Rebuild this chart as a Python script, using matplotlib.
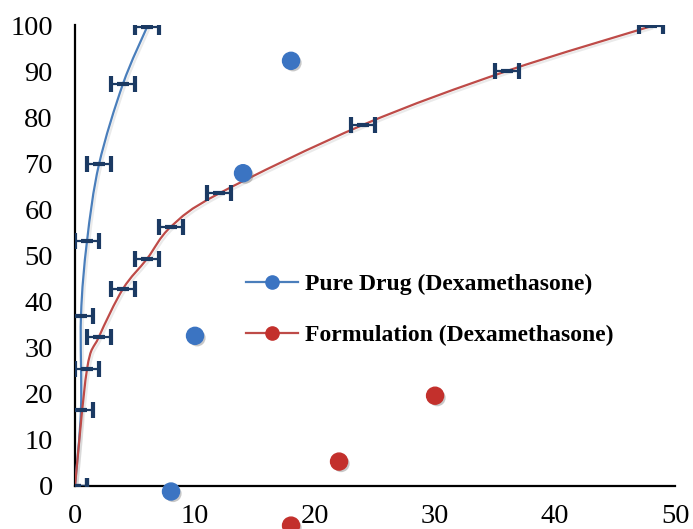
import matplotlib
matplotlib.use('Agg')
import matplotlib.pyplot as plt
import matplotlib.patheffects as pe
from matplotlib.path import Path
from matplotlib.patches import PathPatch
from matplotlib.lines import Line2D
import numpy as np

# release profiles: time vs cumulative % released, with horizontal error
pure_x = [0, 0.5, 0.5, 1, 2, 4, 6]
pure_y = [0, 16.6, 36.9, 53.1, 69.8, 87.3, 99.6]
pure_err = [1, 1, 1, 1, 1, 1, 1]

form_x = [0, 1, 2, 4, 6, 8, 12, 24, 36, 48]
form_y = [0, 25.3, 32.4, 42.8, 49.3, 56.3, 63.5, 78.4, 90.1, 99.8]
form_err = [1, 1, 1, 1, 1, 1, 1, 1, 1, 1]

# series markers as they sit on the sheet
pure_dot_x = [8, 10, 14, 18]
pure_dot_y = [-1.2, 32.6, 67.9, 92.3]
form_dot_x = [18, 22, 30]
form_dot_y = [-8.6, 5.3, 19.6]

x_ticks = [0, 10, 20, 30, 40, 50]
y_ticks = [0, 10, 20, 30, 40, 50, 60, 70, 80, 90, 100]

BLUE_LINE = '#4A7EBB'
BLUE_DOT = '#3B74C2'
RED_LINE = '#BE4B48'
RED_DOT = '#C3302C'
NAVY = '#1B3A63'

plt.rcParams['font.family'] = ['Liberation Serif', 'DejaVu Serif']


def smooth_path(xs, ys):
    # catmull-rom style smoothing, written as cubic bezier segments
    pts = np.column_stack([xs, ys]).astype(float)
    ext = np.vstack([pts[0], pts, pts[-1]])
    verts = [pts[0]]
    codes = [Path.MOVETO]
    for i in range(1, len(ext) - 2):
        p0, p1, p2, p3 = ext[i - 1], ext[i], ext[i + 1], ext[i + 2]
        verts += [p1 + (p2 - p0) / 6, p2 - (p3 - p1) / 6, p2]
        codes += [Path.CURVE4] * 3
    return Path(verts, codes)


shadow = [pe.SimpleLineShadow(offset=(1.5, -1.5), shadow_color='#999999', alpha=0.2),
          pe.Normal()]
dot_shadow = [pe.SimplePatchShadow(offset=(1.5, -1.5), shadow_rgbFace='#777777', alpha=0.4),
              pe.Normal()]

fig = plt.figure(figsize=(6.93, 5.29), dpi=100)
ax = fig.add_axes([0.1082, 0.0813, 0.866, 0.8708])

for xs, ys, col in [(pure_x, pure_y, BLUE_LINE), (form_x, form_y, RED_LINE)]:
    patch = PathPatch(smooth_path(xs, ys), facecolor='none', edgecolor=col,
                      lw=1.6, zorder=3, path_effects=shadow)
    ax.add_patch(patch)

for xs, ys, err in [(pure_x, pure_y, pure_err), (form_x, form_y, form_err)]:
    ax.errorbar(xs, ys, xerr=err, fmt='_', color=NAVY, ms=8, mew=3,
                elinewidth=1.6, capsize=6, capthick=1.6, zorder=4)

ax.scatter(pure_dot_x, pure_dot_y, s=150, color=BLUE_DOT, zorder=5,
           clip_on=False, path_effects=dot_shadow)
ax.scatter(form_dot_x, form_dot_y, s=150, color=RED_DOT, zorder=5,
           clip_on=False, path_effects=dot_shadow)

ax.set_xlim(0, 50)
ax.set_ylim(0, 100)
ax.set_xticks(x_ticks)
ax.set_yticks(y_ticks)
ax.tick_params(axis='both', length=0, labelsize=20.5, colors='black')
ax.tick_params(axis='y', pad=16)
ax.tick_params(axis='x', pad=13)
for side in ['top', 'right']:
    ax.spines[side].set_visible(False)
for side in ['left', 'bottom']:
    ax.spines[side].set_linewidth(1.6)
    ax.spines[side].set_color('black')
    ax.spines[side].set_zorder(2)

handles = [
    Line2D([], [], color=BLUE_LINE, lw=1.6, marker='o', ms=9.5,
           markerfacecolor=BLUE_DOT, markeredgecolor=BLUE_DOT),
    Line2D([], [], color=RED_LINE, lw=1.6, marker='o', ms=9.5,
           markerfacecolor=RED_DOT, markeredgecolor=RED_DOT),
]
leg = ax.legend(handles, ['Pure Drug (Dexamethasone)', 'Formulation (Dexamethasone)'],
                loc='upper left', bbox_to_anchor=(0.27, 0.482), frameon=False,
                prop={'weight': 'bold', 'size': 17}, handlelength=2.2,
                handletextpad=0.3, labelspacing=1.25, borderaxespad=0)

fig.savefig('out.png', dpi=100)
